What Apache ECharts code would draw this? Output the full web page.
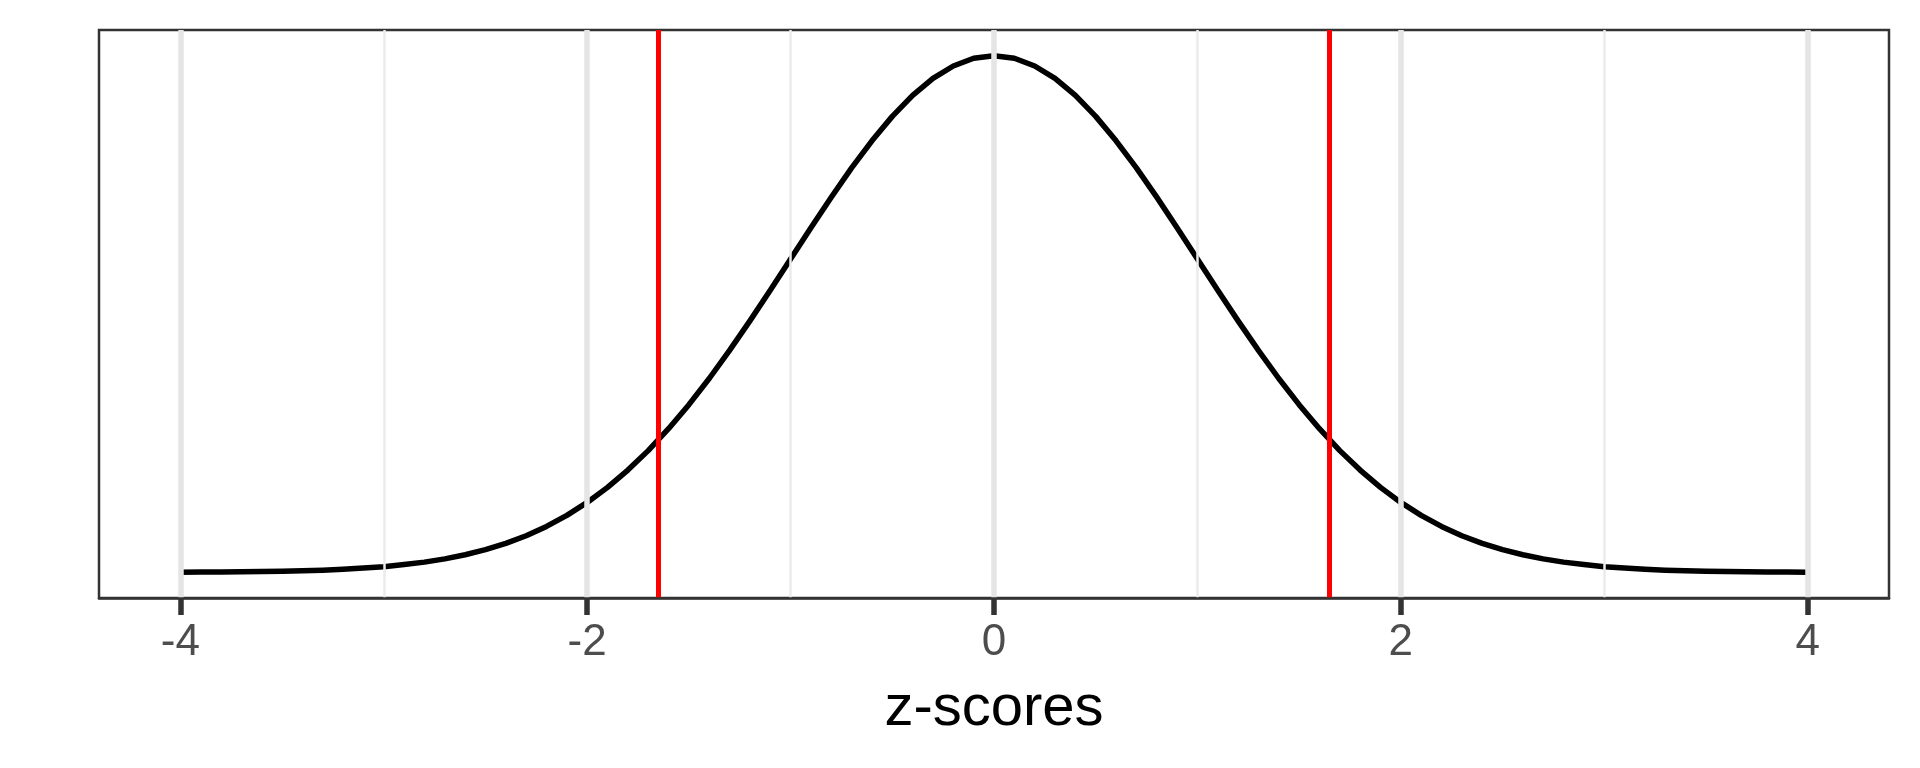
<!DOCTYPE html>
<html>
<head>
<meta charset="utf-8">
<script src="https://cdn.jsdelivr.net/npm/echarts@6/dist/echarts.min.js"></script>
<style>
html,body{margin:0;padding:0;background:#fff;}
#chart{width:1920px;height:768px;}
</style>
</head>
<body>
<div id="chart"></div>
<script>
const zValues = [-4.0,-3.9,-3.8,-3.7,-3.6,-3.5,-3.4,-3.3,-3.2,-3.1,-3.0,-2.9,-2.8,-2.7,-2.6,-2.5,-2.4,-2.3,-2.2,-2.1,-2.0,-1.9,-1.8,-1.7,-1.6,-1.5,-1.4,-1.3,-1.2,-1.1,-1.0,-0.9,-0.8,-0.7,-0.6,-0.5,-0.4,-0.3,-0.2,-0.1,0.0,0.1,0.2,0.3,0.4,0.5,0.6,0.7,0.8,0.9,1.0,1.1,1.2,1.3,1.4,1.5,1.6,1.7,1.8,1.9,2.0,2.1,2.2,2.3,2.4,2.5,2.6,2.7,2.8,2.9,3.0,3.1,3.2,3.3,3.4,3.5,3.6,3.7,3.8,3.9,4.0];
const density = [0.0001,0.0002,0.0003,0.0004,0.0006,0.0009,0.0012,0.0017,0.0024,0.0033,0.0044,0.0060,0.0079,0.0104,0.0136,0.0175,0.0224,0.0283,0.0355,0.0440,0.0540,0.0656,0.0790,0.0940,0.1109,0.1295,0.1497,0.1714,0.1942,0.2179,0.2420,0.2661,0.2897,0.3123,0.3332,0.3521,0.3683,0.3814,0.3910,0.3970,0.3989,0.3970,0.3910,0.3814,0.3683,0.3521,0.3332,0.3123,0.2897,0.2661,0.2420,0.2179,0.1942,0.1714,0.1497,0.1295,0.1109,0.0940,0.0790,0.0656,0.0540,0.0440,0.0355,0.0283,0.0224,0.0175,0.0136,0.0104,0.0079,0.0060,0.0044,0.0033,0.0024,0.0017,0.0012,0.0009,0.0006,0.0004,0.0003,0.0002,0.0001];
const criticalValues = [-1.645, 1.645];
const majorTicks = [-4, -2, 0, 2, 4];
const minorTicks = [-3, -1, 1, 3];
const xRange = [-4.4, 4.4];
const yRange = [-0.0198, 0.4188];
const xTitle = 'z-scores';

const curve = zValues.map((z, i) => [z, density[i]]);

const chart = echarts.init(document.getElementById('chart'), null, {renderer: 'canvas'});
chart.setOption({
  animation: false,
  backgroundColor: '#ffffff',
  grid: {
    left: 99, right: 31, top: 30, bottom: 170,
    show: true, borderColor: '#333333', borderWidth: 2.5, backgroundColor: '#ffffff', z: 0
  },
  xAxis: {
    type: 'value',
    min: xRange[0], max: xRange[1],
    z: 10,
    name: xTitle,
    nameLocation: 'middle',
    nameGap: 82,
    nameTextStyle: {color: '#000000', fontSize: 58, fontFamily: 'Liberation Sans'},
    axisLine: {show: true, onZero: false, lineStyle: {color: '#333333', width: 2.5}},
    axisTick: {show: true, inside: false, customValues: majorTicks, length: 17, lineStyle: {color: '#333333', width: 5.5}},
    axisLabel: {show: true, customValues: majorTicks, margin: 23, color: '#4d4d4d', fontSize: 44, fontFamily: 'Liberation Sans'},
    splitLine: {show: false}
  },
  yAxis: {
    type: 'value',
    min: yRange[0], max: yRange[1],
    show: false,
    splitLine: {show: false}
  },
  series: [
    {
      type: 'line', data: [], silent: true, z: 1,
      markLine: {
        silent: true, symbol: 'none', animation: false,
        label: {show: false},
        lineStyle: {color: '#ebebeb', width: 2.5, type: 'solid'},
        data: minorTicks.map(v => ({xAxis: v}))
      }
    },
    {
      type: 'line', data: [], silent: true, z: 2,
      markLine: {
        silent: true, symbol: 'none', animation: false,
        label: {show: false},
        lineStyle: {color: '#e5e5e5', width: 5.5, type: 'solid'},
        data: majorTicks.map(v => ({xAxis: v}))
      }
    },
    {
      type: 'line', data: curve, z: 3,
      showSymbol: false, symbol: 'none', smooth: false,
      lineStyle: {color: '#000000', width: 5.5, cap: 'butt', join: 'round'}
    },
    {
      type: 'line', data: [], silent: true, z: 4,
      markLine: {
        silent: true, symbol: 'none', animation: false,
        label: {show: false},
        lineStyle: {color: '#ff0000', width: 5, type: 'solid'},
        data: criticalValues.map(v => ({xAxis: v}))
      }
    }
  ]
});
</script>
</body>
</html>
